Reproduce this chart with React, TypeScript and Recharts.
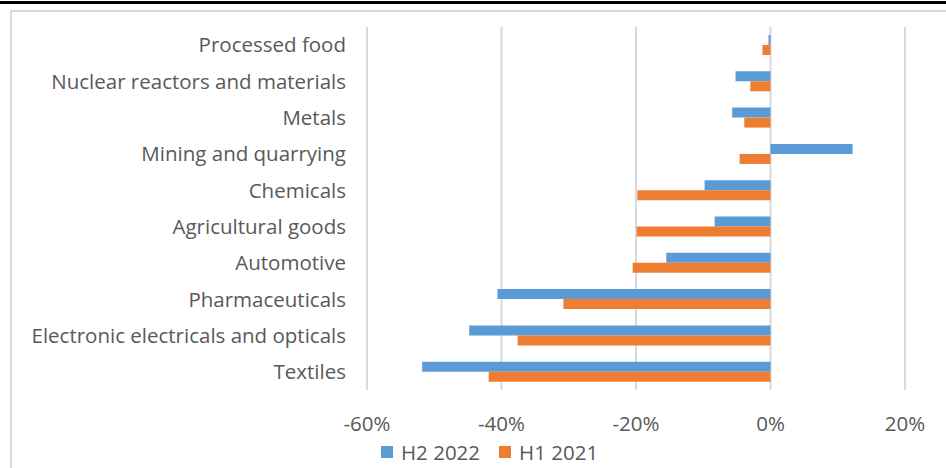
import React from "react";
import {
  BarChart,
  Bar,
  XAxis,
  YAxis,
  CartesianGrid,
  Legend,
} from "recharts";

const categories = [
  "Processed food",
  "Nuclear reactors and materials",
  "Metals",
  "Mining and quarrying",
  "Chemicals",
  "Agricultural goods",
  "Automotive",
  "Pharmaceuticals",
  "Electronic electricals and opticals",
  "Textiles",
];

const h2_2022 = [-0.3, -5.2, -5.7, 12.2, -9.8, -8.3, -15.5, -40.6, -44.8, -51.8];
const h1_2021 = [-1.2, -3.0, -3.9, -4.6, -19.8, -19.9, -20.5, -30.8, -37.6, -41.9];

const xTicks = [-60, -40, -20, 0, 20];

const series = [
  { key: "h2", name: "H2 2022", color: "#5b9bd5" },
  { key: "h1", name: "H1 2021", color: "#ed7d31" },
];

const data = categories.map((name, i) => ({
  name,
  h2: h2_2022[i],
  h1: h1_2021[i],
}));

const FONT = "'Open Sans', sans-serif";
const TEXT = "#595959";
const FS = 20.5;

function LegendBox() {
  return (
    <div style={{ display: "flex", alignItems: "center" }}>
      {series.map((s) => (
        <div
          key={s.key}
          style={{ display: "flex", alignItems: "center", marginRight: 19 }}
        >
          <span
            style={{
              display: "inline-block",
              width: 12,
              height: 12,
              background: s.color,
              marginRight: 8,
            }}
          />
          <span style={{ color: TEXT, fontSize: FS, lineHeight: "24px" }}>
            {s.name}
          </span>
        </div>
      ))}
    </div>
  );
}

export default function App() {
  return (
    <div
      style={{
        position: "fixed",
        left: 0,
        top: 0,
        width: 946,
        height: 468,
        background: "#fff",
        fontFamily: FONT,
        overflow: "hidden",
      }}
    >
      <div
        style={{
          position: "absolute",
          left: 0,
          top: 1,
          width: 946,
          height: 3,
          background: "#000",
        }}
      />
      <div
        style={{
          position: "absolute",
          left: 10,
          top: 10,
          width: 960,
          height: 480,
          border: "2px solid #d9d9d9",
        }}
      />
      <div style={{ position: "absolute", left: 0, top: 0 }}>
        <BarChart
          width={946}
          height={468}
          data={data}
          layout="vertical"
          margin={{ top: 27, right: 41, left: 0, bottom: 48 }}
          barSize={10}
          barGap={0}
        >
          <CartesianGrid
            horizontal={false}
            stroke="#d9d9d9"
            strokeWidth={2}
          />
          <XAxis
            type="number"
            domain={[-60, 20]}
            ticks={xTicks}
            tickFormatter={(v) => `${v}%`}
            axisLine={false}
            tickLine={false}
            tickMargin={20}
            tick={{ fontSize: FS, fill: TEXT, fontFamily: FONT }}
            height={30}
          />
          <YAxis
            type="category"
            dataKey="name"
            width={367}
            axisLine={false}
            tickLine={false}
            tickMargin={15}
            tick={{ fontSize: FS, fill: TEXT, fontFamily: FONT }}
            interval={0}
          />
          <Legend
            content={() => <LegendBox />}
            wrapperStyle={{
              left: 381,
              top: 440,
              width: "auto",
              height: 0,
            }}
          />
          {series.map((s) => (
            <Bar
              key={s.key}
              dataKey={s.key}
              name={s.name}
              fill={s.color}
              isAnimationActive={false}
            />
          ))}
        </BarChart>
      </div>
    </div>
  );
}
